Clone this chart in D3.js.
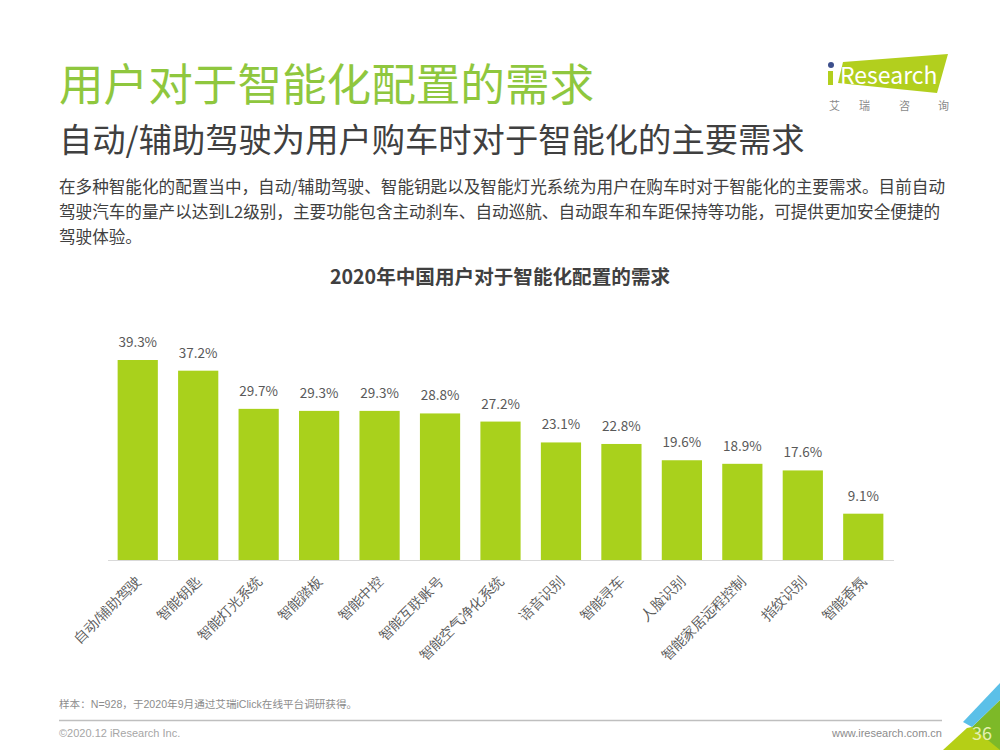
<!DOCTYPE html>
<html>
<head>
<meta charset="utf-8">
<script src="https://cdn.jsdelivr.net/npm/d3@7/dist/d3.min.js"></script>
<style>
  html, body { margin: 0; padding: 0; background: #fff; }
  svg { display: block; font-family: "Noto Sans CJK SC", "Noto Sans", sans-serif; }
</style>
</head>
<body>
<svg id="chart" width="1000" height="750"></svg>
<script>
var categories = ["自动/辅助驾驶", "智能钥匙", "智能灯光系统", "智能踏板", "智能中控", "智能互联账号",
  "智能空气净化系统", "语音识别", "智能寻车", "人脸识别", "智能家居远程控制", "指纹识别", "智能香氛"];
var values = [39.3, 37.2, 29.7, 29.3, 29.3, 28.8, 27.2, 23.1, 22.8, 19.6, 18.9, 17.6, 9.1];
var bodyLines = [
  "在多种智能化的配置当中，自动/辅助驾驶、智能钥匙以及智能灯光系统为用户在购车时对于智能化的主要需求。目前自动",
  "驾驶汽车的量产以达到L2级别，主要功能包含主动刹车、自动巡航、自动跟车和车距保持等功能，可提供更加安全便捷的",
  "驾驶体验。"
];

var svg = d3.select("#chart");

var addText = function(x, y, str, size, color, weight) {
  return svg.append("text")
    .attr("x", x)
    .attr("y", y)
    .attr("font-size", size)
    .attr("fill", color)
    .attr("font-weight", weight || 400)
    .text(str);
};

// header
addText(59, 101, "用户对于智能化配置的需求", 44.6, "#8fc73e", 400);
addText(59, 152, "自动/辅助驾驶为用户购车时对于智能化的主要需求", 33.3, "#404040");
bodyLines.forEach(function(line, i) {
  addText(59, 193 + i * 25, line, 16.6, "#404040");
});
addText(500, 284, "2020年中国用户对于智能化配置的需求", 19.6, "#404040", 700)
  .attr("text-anchor", "middle");

// logo
svg.append("polygon")
  .attr("points", "843,62 948,54 937,93 838,83")
  .attr("fill", "#b2cf1e");
svg.append("rect").attr("x", 828).attr("y", 71).attr("width", 5).attr("height", 14).attr("fill", "#b2cf1e");
svg.append("circle").attr("cx", 831).attr("cy", 65).attr("r", 3).attr("fill", "#3d4f8c");
addText(840, 84, "Research", 23, "#fff");
addText(829, 110, "艾", 11, "#8a8a8a");
addText(859, 110, "瑞", 11, "#8a8a8a");
addText(899, 110, "咨", 11, "#8a8a8a");
addText(938, 110, "询", 11, "#8a8a8a");

// chart
var x = d3.scaleBand()
  .domain(categories)
  .range([107.5, 893.5])
  .paddingInner(0.335)
  .paddingOuter(0.1675);

var y = d3.scaleLinear()
  .domain([0, 39.3])
  .range([560, 360]);

var xAxis = svg.append("g")
  .attr("transform", "translate(0,560)")
  .call(d3.axisBottom(x).tickSize(0));

xAxis.select(".domain")
  .attr("stroke", "#d9d9d9")
  .attr("stroke-width", 1);

xAxis.selectAll("text")
  .attr("font-family", null)
  .attr("font-size", 14)
  .attr("text-rendering", "geometricPrecision")
  .attr("fill", "#595959")
  .attr("text-anchor", "end")
  .attr("dy", null)
  .attr("y", null)
  .attr("transform", "translate(4,22) rotate(-45)");

svg.selectAll(".bar")
  .data(values)
  .enter().append("rect")
  .attr("class", "bar")
  .attr("x", function(d, i) { return x(categories[i]); })
  .attr("y", function(d) { return y(d); })
  .attr("width", x.bandwidth())
  .attr("height", function(d) { return y(0) - y(d); })
  .attr("fill", "#a9d11c");

svg.selectAll(".value")
  .data(values)
  .enter().append("text")
  .attr("class", "value")
  .attr("x", function(d, i) { return x(categories[i]) + x.bandwidth() / 2; })
  .attr("y", function(d) { return y(d) - 13; })
  .attr("text-anchor", "middle")
  .attr("font-size", 13.5)
  .attr("fill", "#595959")
  .text(function(d) { return d.toFixed(1) + "%"; });

// footer
var footFont = '"Liberation Sans", "Noto Sans CJK SC", sans-serif';
addText(59, 708, "样本：N=928，于2020年9月通过艾瑞iClick在线平台调研获得。", 10.6, "#8c8c8c")
  .attr("font-family", footFont);
svg.append("line")
  .attr("x1", 59).attr("x2", 942)
  .attr("y1", 720.5).attr("y2", 720.5)
  .attr("stroke", "#bfbfbf")
  .attr("stroke-width", 1.5);
addText(59, 737, "©2020.12 iResearch Inc.", 11, "#a6a6a6").attr("font-family", footFont);
addText(942, 737, "www.iresearch.com.cn", 11, "#8c8c8c").attr("text-anchor", "end").attr("font-family", footFont);

// corner
svg.append("polygon").attr("points", "1000,700 1000,750 960,750 972,727").attr("fill", "#7db928");
svg.append("polygon").attr("points", "967,728 972,727 1000,750 943,750").attr("fill", "#b5cf16");
svg.append("polygon").attr("points", "1000,683 1000,700 972,727 963,722").attr("fill", "#5bc0e8");
addText(972, 740, "36", 18, "#e6f0b0");
</script>
</body>
</html>
